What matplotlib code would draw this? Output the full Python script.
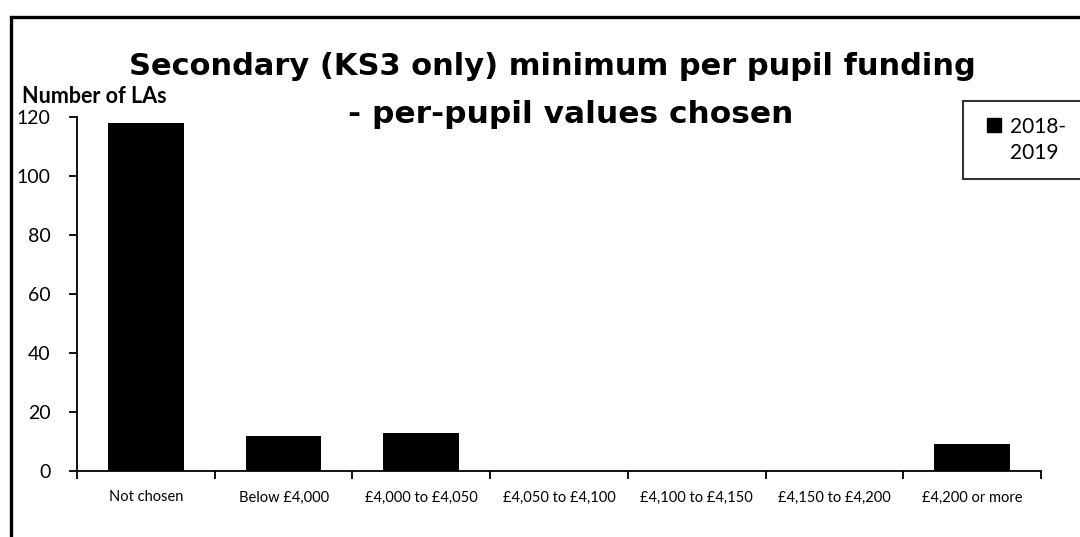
import matplotlib.pyplot as plt
from matplotlib.patches import Rectangle
from matplotlib.lines import Line2D

categories = ["Not chosen", "Below £4,000", "£4,000 to £4,050", "£4,050 to £4,100",
              "£4,100 to £4,150", "£4,150 to £4,200", "£4,200 or more"]
values_2018 = [118, 12, 13, 0, 0, 0, 9]
legend_lines = ["2018-", "2019"]

plt.rcParams['font.family'] = ['Lato', 'DejaVu Sans']

fig = plt.figure(figsize=(10.8, 5.37), dpi=100)
ax = fig.add_axes([0.0713, 0.1229, 0.8926, 0.6592])

x = range(len(categories))
ax.bar(x, values_2018, width=0.55, color="black")

ax.set_xlim(-0.5, len(categories) - 0.5)
ax.set_ylim(0, 120)
ax.set_yticks(range(0, 121, 20))
ax.set_xticks(list(x))
ax.set_xticklabels(categories, fontsize=10.5)
ax.set_xticks([i + 0.5 for i in range(-1, len(categories))], minor=True)
ax.tick_params(axis="x", which="major", length=0, pad=14)
ax.tick_params(axis="x", which="minor", length=6, direction="out", width=1.3)
ax.tick_params(axis="y", labelsize=14, length=6, width=1.3, direction="out", pad=13)
for s in ["top", "right"]:
    ax.spines[s].set_visible(False)
ax.spines["left"].set_linewidth(1.3)
ax.spines["bottom"].set_linewidth(1.3)

fig.text(0.511, 0.8603, "Secondary (KS3 only) minimum per pupil funding",
         ha="center", va="baseline", fontsize=22, fontweight="bold", family="DejaVu Sans")
fig.text(0.528, 0.771, "- per-pupil values chosen",
         ha="center", va="baseline", fontsize=22.5, fontweight="bold", family="DejaVu Sans")
fig.text(0.02, 0.808, "Number of LAs", ha="left", va="baseline", fontsize=15.5, fontweight="bold")

# legend: square marker on the first line, wrapped year on the second
handles = [Line2D([], [], marker="s", color="black", linestyle="none", markersize=10),
           Line2D([], [], linestyle="none")]
leg = ax.legend(handles, legend_lines, loc="upper left", bbox_to_anchor=(0.8917, 0.8119),
                bbox_transform=fig.transFigure, frameon=True, fancybox=False,
                edgecolor="black", fontsize=15, handlelength=1.5, handletextpad=0.0,
                borderpad=0.75, borderaxespad=0, labelspacing=0.3)
leg.get_frame().set_linewidth(1.5)

# outer chart border
fig.add_artist(Rectangle((0.0105, -0.05), 1.2, 1.018, transform=fig.transFigure,
                         fill=False, edgecolor="black", linewidth=2.4))

fig.savefig("out.png", dpi=100)
